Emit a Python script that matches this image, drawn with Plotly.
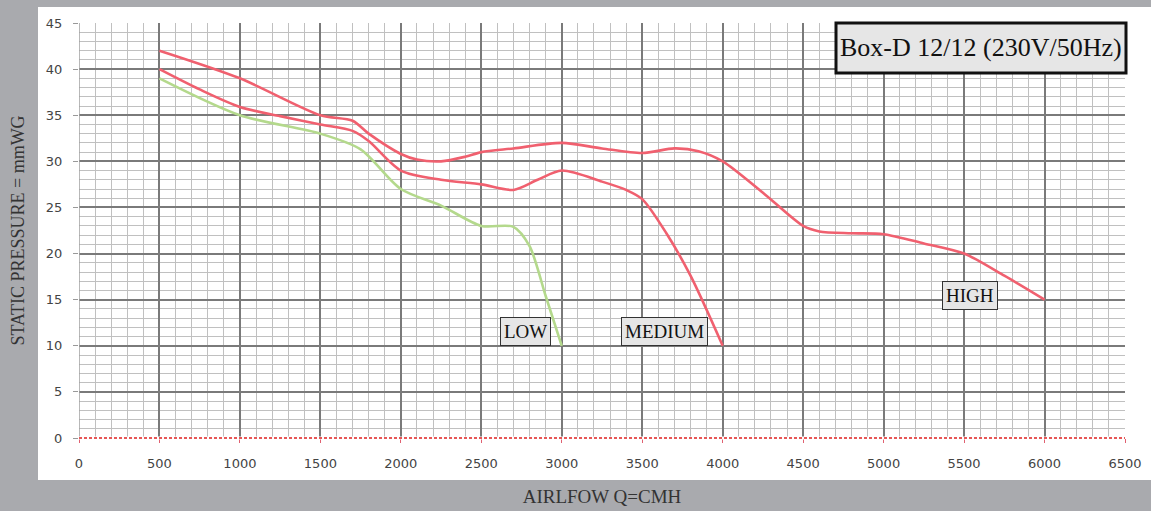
import plotly.graph_objects as go

# ---- data ----
high_x = [500, 1000, 1500, 1700, 1800, 2000, 2100, 2250, 2400, 2500, 2700, 3000, 3250, 3500, 3700, 3850, 4000, 4250, 4500, 4600, 4800, 5000, 5250, 5500, 5750, 6000]
high_y = [42, 39, 35, 34.4, 33.0, 30.8, 30.2, 30.0, 30.5, 31.0, 31.4, 32.0, 31.4, 30.9, 31.4, 31.1, 30.0, 26.6, 23.0, 22.4, 22.2, 22.1, 21.1, 20.0, 17.6, 15]

med_x = [500, 750, 1000, 1250, 1500, 1700, 1800, 2000, 2250, 2500, 2700, 2850, 3000, 3250, 3400, 3500, 3650, 3800, 4000]
med_y = [40, 37.8, 35.9, 34.9, 34.0, 33.3, 32.2, 29.0, 28.0, 27.5, 26.9, 28.0, 29.0, 27.8, 26.9, 25.9, 22.2, 17.6, 10]

low_x = [500, 1000, 1500, 1750, 2000, 2250, 2500, 2700, 2800, 2900, 3000]
low_y = [39, 35, 33.0, 31.3, 27.0, 25.2, 23.0, 22.9, 20.8, 15.4, 10]

x_ticks = list(range(0, 6501, 500))
y_ticks = list(range(0, 46, 5))

title_text = "Box-D 12/12 (230V/50Hz)"
x_title = "AIRLFOW Q=CMH"
y_title = "STATIC PRESSURE = mmWG"

RED = "#f0606f"
GREEN = "#b4d98c"

fig = go.Figure()
for xs, ys, col in [(low_x, low_y, GREEN), (med_x, med_y, RED), (high_x, high_y, RED)]:
    fig.add_trace(go.Scatter(x=xs, y=ys, mode="lines",
                             line=dict(color=col, width=2.6, shape="spline", smoothing=0.8),
                             showlegend=False, hoverinfo="x+y"))

serif = "Liberation Serif"
tickfont = dict(family="DejaVu Sans", size=13, color="#444")

fig.update_layout(
    width=1151, height=511,
    margin=dict(l=79, r=26, t=23, b=73, autoexpand=False),
    paper_bgcolor="#a9aaae",
    plot_bgcolor="white",
    xaxis=dict(range=[0, 6500], tickvals=x_ticks, ticktext=[str(v) for v in x_ticks],
               automargin=False,
               showgrid=True, gridcolor="#7a7a7a", gridwidth=2,
               minor=dict(dtick=100, showgrid=True, gridcolor="#c0c0c0", gridwidth=1),
               zeroline=False, showline=False,
               ticks="outside", ticklen=4, tickcolor="#e06070",
               tickfont=tickfont, ticklabelstandoff=9,
               title=dict(text=x_title, font=dict(family=serif, size=19, color="#333"), standoff=20)),
    yaxis=dict(range=[0, 45], tickvals=y_ticks, ticktext=[str(v) for v in y_ticks],
               automargin=False,
               showgrid=True, gridcolor="#7a7a7a", gridwidth=2,
               minor=dict(dtick=1, showgrid=True, gridcolor="#c0c0c0", gridwidth=1),
               zeroline=False, showline=False,
               ticks="outside", ticklen=5, tickcolor="#999",
               tickfont=tickfont, ticklabelstandoff=8,
               title=dict(text=y_title, font=dict(family=serif, size=18, color="#333"), standoff=16)),
)

shapes = [
    # white card behind the chart
    dict(type="rect", xref="paper", yref="paper", x0=-0.0392, x1=1.03, y0=-0.1012, y1=1.0386,
         fillcolor="white", line=dict(width=0), layer="below"),
    # lighter left edge line
    dict(type="line", xref="x", yref="paper", x0=0, x1=0, y0=0, y1=1,
         line=dict(color="#a0a0a0", width=1.5), layer="above"),
    # red dashed baseline (paper-referenced so it is not clipped)
    dict(type="line", xref="paper", yref="paper", x0=0, x1=1, y0=0, y1=0,
         line=dict(color="white", width=3), layer="above"),
    dict(type="line", xref="paper", yref="paper", x0=0, x1=1, y0=0, y1=0,
         line=dict(color="#e02020", width=1.5, dash="3px,2px"), layer="above"),
    # title box
    dict(type="rect", xref="paper", yref="paper", x0=(836 - 79) / 1046, x1=(1126 - 79) / 1046,
         y0=(438 - 73) / 415, y1=1.0, fillcolor="#e6e6e6",
         line=dict(color="#111", width=3), layer="above"),
]
fig.update_layout(shapes=shapes)

fig.add_annotation(xref="paper", yref="paper", x=(981 - 79) / 1046, y=(438 - 48) / 415,
                   xanchor="center", yanchor="middle",
                   text=title_text, showarrow=False,
                   font=dict(family=serif, size=26, color="#111"))

label_font = dict(family=serif, size=19, color="#111")
for txt, lx, ly in [("LOW", 2772, 11.5), ("MEDIUM", 3638, 11.5), ("HIGH", 5534, 15.4)]:
    fig.add_annotation(x=lx, y=ly, text=txt, showarrow=False, font=label_font,
                       xanchor="center", yanchor="middle",
                       bgcolor="#e6e6e6", bordercolor="#333", borderwidth=1, borderpad=3)

fig.write_html("out.html", config={"displayModeBar": False},
               post_script="document.body.style.margin='0';document.body.style.overflow='hidden';")
